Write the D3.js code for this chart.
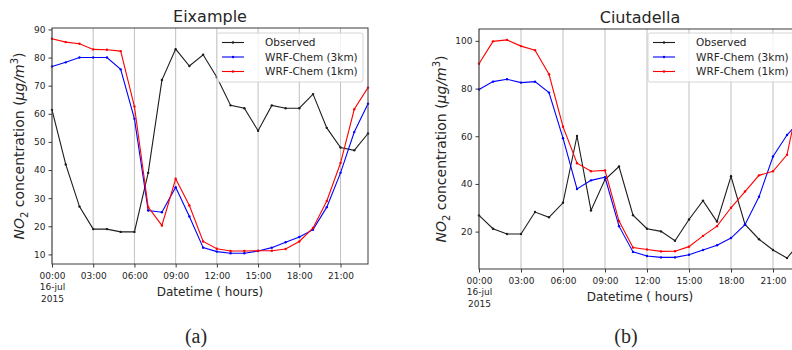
<!DOCTYPE html>
<html>
<head>
<meta charset="utf-8">
<script src="https://cdn.jsdelivr.net/npm/d3@7"></script>
<style>
  body { margin: 0; background: #fff; }
  text { font-family: "DejaVu Sans", sans-serif; fill: #262626; }
</style>
</head>
<body>
<svg id="chart" width="792" height="350"></svg>
<script>
// hours of 16-jul-2015
const hours = [0, 1, 2, 3, 4, 5, 6, 7, 8, 9, 10, 11, 12, 13, 14, 15, 16, 17, 18, 19, 20, 21, 22, 23];
const tickHours = [0, 3, 6, 9, 12, 15, 18, 21];
const tickLabels = ["00:00", "03:00", "06:00", "09:00", "12:00", "15:00", "18:00", "21:00"];
const firstTickExtra = ["16-jul", "2015"];
const seriesNames = ["Observed", "WRF-Chem (3km)", "WRF-Chem (1km)"];

// Eixample
const obsEixample = [61.4, 42, 27, 19, 19, 18, 18, 39, 72, 83, 77, 81, 73, 63, 62, 54, 63, 62, 62, 67, 55, 48, 47, 53];
const km3Eixample = [76.8, 78.3, 80, 80, 80, 75.8, 58.2, 25.6, 25, 33.9, 23.5, 12.4, 11, 10.4, 10.4, 11.2, 12.4, 14.3, 16.2, 18.8, 26.8, 39, 53.5, 63.6];
const km1Eixample = [86.7, 85.5, 84.9, 82.9, 82.8, 82.3, 62.6, 26.8, 20.3, 36.9, 27.4, 14.6, 12, 11.2, 11.2, 11.3, 11.3, 11.9, 14.6, 19.4, 29, 42.5, 61.6, 69.3];
const yTicksEixample = [10, 20, 30, 40, 50, 60, 70, 80, 90];

// Ciutadella
const obsCiutadella = [26.8, 21.2, 19, 19, 28.2, 26, 32.1, 60.1, 28.9, 41.8, 47.3, 26.9, 21.2, 20.1, 16.2, 25.1, 33, 24.2, 43.2, 23, 16.8, 12.3, 8.9, 16];
const km3Ciutadella = [79.6, 82.9, 83.9, 82.5, 82.9, 78.3, 59.2, 37.9, 41.5, 42.8, 22.3, 11.5, 9.8, 9.2, 9.2, 10.3, 12.3, 14.3, 17.3, 22.9, 34.6, 51.5, 60.5, 67];
const km1Ciutadella = [90.4, 99.8, 100.4, 97.8, 96.1, 86, 64, 48.7, 45.3, 45.7, 24.4, 13.3, 12.5, 11.7, 11.8, 13.7, 18.2, 22.3, 30, 36.8, 43.6, 45.3, 52.2, 80];
const yTicksCiutadella = [20, 40, 60, 80, 100];

const colors = ["#1c1c1c", "#0000ff", "#ff0000"];

const svg = d3.select("#chart");
svg.append("rect").attr("width", 792).attr("height", 350).attr("fill", "#fff");

function drawPanel(p) {
    const g = svg.append("g");
    const x = d3.scaleLinear().domain([hours[0], hours[hours.length - 1]]).range([p.left, p.right]);
    // matplotlib-ish 5% margin
    const all = p.series.flat();
    const lo = d3.min(all), hi = d3.max(all), pad = (hi - lo) * 0.05;
    const y = d3.scaleLinear().domain([lo - pad, hi + pad]).range([p.bottom, p.top]);

    // vertical grid
    g.selectAll(".grid")
        .data(tickHours)
        .enter().append("line")
        .attr("x1", d => x(d)).attr("x2", d => x(d))
        .attr("y1", p.top).attr("y2", p.bottom)
        .attr("stroke", "#b0b0b0").attr("stroke-width", 0.8);

    // series
    const line = d3.line().x((d, i) => x(hours[i])).y(d => y(d));
    p.series.forEach(function (vals, k) {
        g.append("path")
            .datum(vals)
            .attr("d", line)
            .attr("fill", "none")
            .attr("stroke", colors[k])
            .attr("stroke-width", 1.1);
        g.selectAll(".dot" + k)
            .data(vals)
            .enter().append("circle")
            .attr("cx", (d, i) => x(hours[i]))
            .attr("cy", d => y(d))
            .attr("r", 1.2)
            .attr("fill", colors[k]);
    });

    // frame
    g.append("rect")
        .attr("x", p.left).attr("y", p.top)
        .attr("width", p.right - p.left).attr("height", p.bottom - p.top)
        .attr("fill", "none").attr("stroke", "#3a3a3a").attr("stroke-width", 1);

    // x axis
    const xAxis = g.append("g")
        .attr("transform", "translate(0," + p.bottom + ")")
        .call(d3.axisBottom(x).tickValues(tickHours)
            .tickFormat((d, i) => tickLabels[i]).tickSize(3.5).tickSizeOuter(0));
    xAxis.select(".domain").remove();
    xAxis.selectAll("line").attr("stroke", "#3a3a3a");
    xAxis.selectAll("text").attr("font-size", 9).attr("dy", "0.95em").attr("fill", "#262626");
    xAxis.selectAll(".tick").filter(d => d === 0).select("text")
        .each(function () {
            const t = d3.select(this);
            firstTickExtra.forEach(function (s, i) {
                t.append("tspan").attr("x", 0).attr("dy", i === 0 ? 11 : 12).text(s);
            });
        });

    // y axis
    const yAxis = g.append("g")
        .attr("transform", "translate(" + p.left + ",0)")
        .call(d3.axisLeft(y).tickValues(p.yTicks).tickSize(3.5).tickSizeOuter(0));
    yAxis.select(".domain").remove();
    yAxis.selectAll("line").attr("stroke", "#3a3a3a");
    yAxis.selectAll("text").attr("font-size", 9).attr("fill", "#262626");

    // title
    g.append("text")
        .attr("x", (p.left + p.right) / 2).attr("y", p.top - 6)
        .attr("text-anchor", "middle").attr("font-size", 16)
        .attr("fill", "#111").text(p.title);

    // x label
    g.append("text")
        .attr("x", (p.left + p.right) / 2).attr("y", p.bottom + 32)
        .attr("text-anchor", "middle").attr("font-size", 12)
        .attr("fill", "#111").text("Datetime ( hours)");

    // y label
    const yl = g.append("text")
        .attr("transform", "translate(" + p.ylabelX + "," + ((p.top + p.bottom) / 2) + ") rotate(-90)")
        .attr("text-anchor", "middle").attr("font-size", 14).attr("fill", "#111");
    yl.append("tspan").attr("font-style", "italic").text("NO");
    yl.append("tspan").attr("font-size", 10).attr("dy", 4).text("2");
    yl.append("tspan").attr("dy", -4).text(" concentration (");
    yl.append("tspan").attr("font-style", "italic").text("μg/m");
    yl.append("tspan").attr("font-size", 10).attr("dy", -6).text("3");
    yl.append("tspan").attr("dy", 6).text(")");

    // legend
    const lg = g.append("g").attr("transform", "translate(" + p.legendX + "," + p.legendY + ")");
    lg.append("rect")
        .attr("width", 146).attr("height", 49).attr("rx", 2)
        .attr("fill", "#fff").attr("fill-opacity", 0.8)
        .attr("stroke", "#cccccc").attr("stroke-width", 0.8);
    seriesNames.forEach(function (name, k) {
        const yy = 9.5 + k * 14.5;
        lg.append("line")
            .attr("x1", 5).attr("x2", 27).attr("y1", yy).attr("y2", yy)
            .attr("stroke", colors[k]).attr("stroke-width", 1.1);
        lg.append("circle").attr("cx", 16).attr("cy", yy).attr("r", 1.2).attr("fill", colors[k]);
        lg.append("text")
            .attr("x", 48).attr("y", yy).attr("dy", "0.35em")
            .attr("font-size", 10.5).attr("fill", "#111").text(name);
    });

    // panel caption
    svg.append("text")
        .attr("x", p.captionX).attr("y", 343)
        .attr("text-anchor", "middle")
        .style("font-family", "'Liberation Serif', serif")
        .attr("font-size", 20).attr("fill", "#111")
        .text(p.caption);
}

drawPanel({
    title: "Eixample", caption: "(a)", captionX: 196,
    left: 52, right: 368, top: 28, bottom: 264, ylabelX: 24,
    legendX: 217, legendY: 33,
    series: [obsEixample, km3Eixample, km1Eixample], yTicks: yTicksEixample
});

drawPanel({
    title: "Ciutadella", caption: "(b)", captionX: 626,
    left: 479, right: 801, top: 29, bottom: 269, ylabelX: 446,
    legendX: 648, legendY: 33,
    series: [obsCiutadella, km3Ciutadella, km1Ciutadella], yTicks: yTicksCiutadella
});
</script>
</body>
</html>
